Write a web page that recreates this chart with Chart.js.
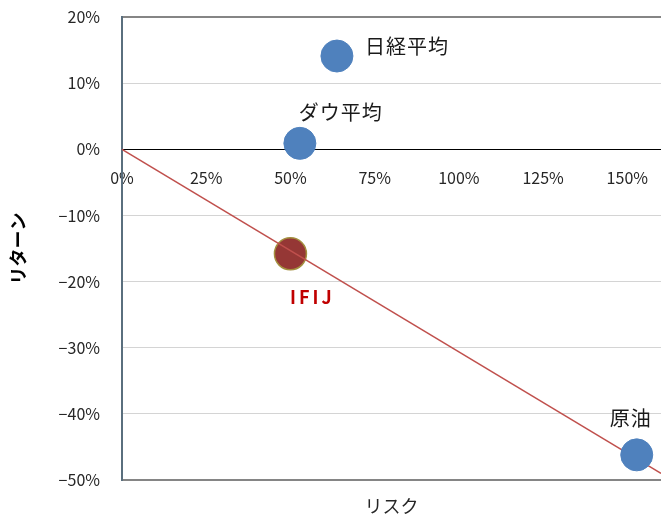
<!DOCTYPE html>
<html>
<head>
<meta charset="utf-8">
<script src="https://cdn.jsdelivr.net/npm/chart.js@4"></script>
<style>
  body { margin: 0; background: #fff; }
  #wrap { width: 661px; height: 518px; }
</style>
</head>
<body>
<div id="wrap"><canvas id="riskChart"></canvas></div>
<script>
// ---- data (risk / return in %) ----
const assetNames = ['日経平均', 'ダウ平均', '原油'];
const assetRisk = [63.8, 52.8, 152.8];
const assetReturn = [14.1, 0.9, -46.2];

const fundName = 'IFIJ';
const fundRisk = [50];
const fundReturn = [-15.8];

const lineRisk = [0, 160];
const lineReturn = [0, -49];

const yTicks = [20, 10, 0, -10, -20, -30, -40, -50];
const xTicks = [0, 25, 50, 75, 100, 125, 150];

const toPoints = (xs, ys) => xs.map((x, i) => ({ x, y: ys[i] }));
const FONT = "'Noto Sans CJK JP', 'Noto Sans', sans-serif";

// label offsets (px from point centre) – just styling
const labelStyle = {
  '日経平均': { dx: 28, dy: -10, align: 'left' },
  'ダウ平均': { dx: 41, dy: -31, align: 'center' },
  '原油':     { dx: -6, dy: -36, align: 'center' },
  'IFIJ':     { dx: 22, dy: 43, align: 'center', color: '#c00000', bold: true }
};

const pointLabels = {
  id: 'pointLabels',
  afterDatasetsDraw(chart) {
    const ctx = chart.ctx;
    ctx.save();
    ctx.textBaseline = 'middle';
    chart.data.datasets.forEach((ds, di) => {
      if (!ds.names) return;
      const meta = chart.getDatasetMeta(di);
      meta.data.forEach((el, i) => {
        const name = ds.names[i];
        const s = labelStyle[name];
        ctx.fillStyle = s.color || '#1a1a1a';
        ctx.font = (s.bold ? 'bold 18px ' : '20px ') + FONT;
        ctx.letterSpacing = s.bold ? '3px' : '1px';
        ctx.textAlign = s.align;
        ctx.fillText(name, el.x + s.dx, el.y + s.dy);
      });
    });
    ctx.restore();
  }
};

const gridColor = v => v === 0 ? '#000' : (v === 20 || v === -50) ? '#858585' : '#d4d4d4';
const gridWidth = v => (v === 20 || v === -50) ? 2 : 1;
const pct = v => (v < 0 ? '−' + Math.abs(v) : v) + '%';

new Chart(document.getElementById('riskChart'), {
  type: 'scatter',
  data: {
    datasets: [
      {
        label: 'assets',
        names: assetNames,
        data: toPoints(assetRisk, assetReturn),
        backgroundColor: '#4f81bd',
        borderColor: '#4f81bd',
        borderWidth: 1,
        pointRadius: 16,
        pointHoverRadius: 16,
        order: 0
      },
      {
        type: 'line',
        label: 'line',
        data: toPoints(lineRisk, lineReturn),
        borderColor: '#c0504d',
        borderWidth: 1.5,
        pointRadius: 0,
        fill: false,
        order: 1
      },
      {
        label: fundName,
        names: [fundName],
        data: toPoints(fundRisk, fundReturn),
        backgroundColor: '#953735',
        borderColor: '#a38f3f',
        borderWidth: 1.5,
        pointRadius: 16,
        pointHoverRadius: 16,
        order: 2
      }
    ]
  },
  options: {
    responsive: true,
    maintainAspectRatio: false,
    animation: false,
    layout: { autoPadding: false, padding: { top: 17, left: 0, right: 0, bottom: 0 } },
    plugins: {
      legend: { display: false },
      tooltip: { enabled: false }
    },
    scales: {
      x: {
        type: 'linear',
        min: 0,
        max: 160,
        position: { y: 0 },
        afterBuildTicks: s => { s.ticks = xTicks.map(v => ({ value: v })); },
        grid: { display: false, drawTicks: true, tickLength: 17 },
        border: { display: true, color: '#000', width: 1 },
        ticks: {
          padding: 2,
          color: '#262626',
          font: { size: 16, family: FONT },
          maxRotation: 0,
          callback: v => v + '%'
        }
      },
      x2: {
        type: 'linear',
        position: 'bottom',
        min: 0,
        max: 160,
        grid: { display: false, drawTicks: false },
        border: { display: false },
        ticks: { display: false },
        afterFit: s => { s.height = 38; },
        title: {
          display: true,
          text: 'リスク',
          color: '#262626',
          font: { size: 18, family: FONT },
          padding: { top: 2, bottom: 1 }
        }
      },
      y: {
        type: 'linear',
        min: -50,
        max: 20,
        afterBuildTicks: s => { s.ticks = yTicks.map(v => ({ value: v })); },
        afterFit: s => { s.width = 122; },
        grid: {
          drawTicks: true,
          tickLength: 20,
          tickColor: 'rgba(0,0,0,0)',
          color: c => gridColor(c.tick.value),
          lineWidth: c => gridWidth(c.tick.value)
        },
        border: { display: true, color: '#5a6f7e', width: 2 },
        ticks: {
          padding: 2,
          color: '#262626',
          font: { size: 16, family: FONT },
          callback: pct
        },
        title: {
          display: true,
          text: 'リターン',
          color: '#000',
          font: { size: 18, weight: 'bold', family: FONT },
          padding: { top: 7, bottom: 0 }
        }
      }
    }
  },
  plugins: [pointLabels]
});
</script>
</body>
</html>
